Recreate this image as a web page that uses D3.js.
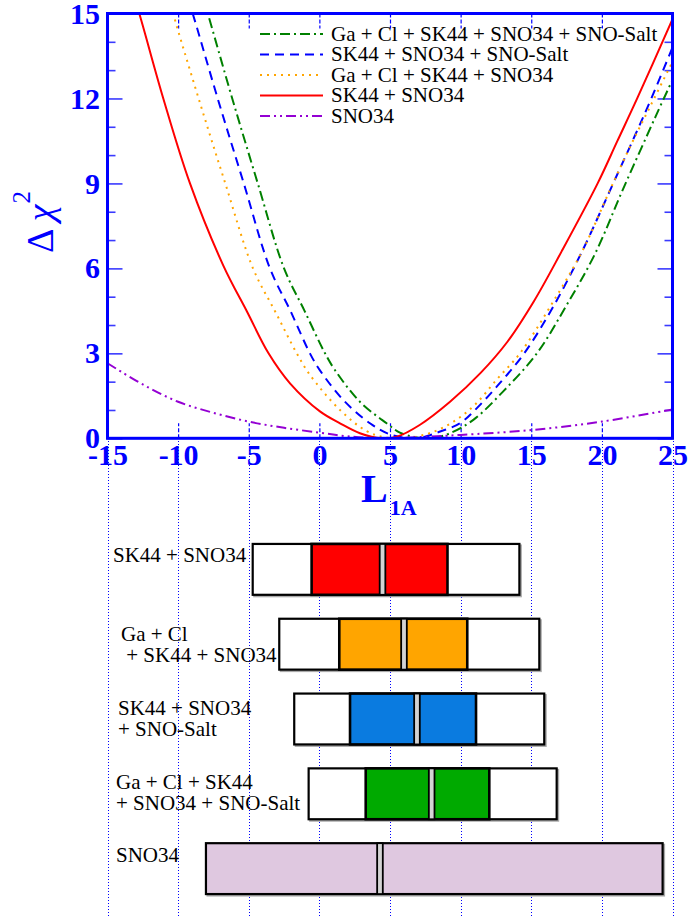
<!DOCTYPE html>
<html>
<head>
<meta charset="utf-8">
<script src="https://cdn.jsdelivr.net/npm/d3@7"></script>
<style>
  body { margin: 0; background: #fff; }
  svg { display: block; font-family: "Liberation Serif", "Times New Roman", serif; }
</style>
</head>
<body>
<div id="chart"></div>
<script>
// x ticks (L_1A) and y ticks (delta chi^2)
var lTicks = [-15, -10, -5, 0, 5, 10, 15, 20, 25];
var chiTicks = [0, 3, 6, 9, 12, 15];
var chiMinor = [1, 2, 4, 5, 7, 8, 10, 11, 13, 14];

var seriesNames = ["Ga + Cl + SK44 + SNO34 + SNO-Salt", "SK44 + SNO34 + SNO-Salt",
  "Ga + Cl + SK44 + SNO34", "SK44 + SNO34", "SNO34"];

// [L_1A, delta chi^2]
var curveGaClSalt = [[-8.2,15.5],[-7.9,15],[-6.17,12],[-4.36,9],[-2.5,6],[-1.05,4.5],[0.4,3.0],[1.1,2.41],
  [2.87,1.29],[4.76,0.53],[5.7,0.2],[6.8,0.04],[7.95,0],[9.25,0.18],[10.9,0.65],[13.0,1.65],[15.4,3.0],[17.5,4.7],
  [19.5,6.5],[21.5,8.8],[23.8,11.36],[25,12.66]];
var curveSalt = [[-9.3,15.5],[-8.97,15],[-7.2,12],[-5.35,9],[-3.5,6],[-2.05,4.5],[-0.67,3.0],[0.04,2.4],[1.7,1.35],
  [3.58,0.53],[5.0,0.14],[6.9,0],[8.5,0.23],[9.95,0.53],[10.9,0.94],[12.6,1.85],[14.5,3.0],[16.5,4.6],
  [18.6,6.6],[20.8,9],[22.35,10.7],[23.5,12],[25,13.8]];
var curveGaCl = [[-10.6,15.5],[-10.35,15],[-8.55,12],[-6.66,9],[-4.7,6],[-3.1,4.45],[-1.6,3.0],[-0.67,2.24],
  [1.46,1.0],[3.35,0.25],[4.5,0.05],[6.0,0],[7.8,0.18],[9.5,0.59],[11.0,1.18],[12.6,2.1],[14.2,3.0],
  [16.4,4.7],[18.6,6.6],[20.6,8.8],[22.0,10.3],[23.5,11.8],[25,13.3]];
var curveSK = [[-13.2,15.7],[-12.75,15],[-11.05,12],[-9.16,9],[-6.8,6.1],[-5.1,4.45],[-3.6,3.0],
  [-2.08,1.94],[0.04,0.95],[1.46,0.53],[2.87,0.18],[4.4,0],[5.5,0.06],[7.1,0.47],[9.25,1.29],[11.4,2.3],
  [13.3,3.4],[15.2,4.85],[17.15,6.6],[19.7,9],[21.1,10.5],[22.5,12],[25,14.8]];
var curveSNO = [[-15,2.65],[-12.5,1.9],[-10,1.29],[-7.5,0.9],[-5,0.59],[-2.5,0.37],[0,0.2],[2,0.07],[4.3,0],
  [7,0.04],[10,0.12],[15,0.29],[20,0.59],[25,1.02]];

var curveColors = ["#008000", "#0000ff", "#ffa500", "#ff0000", "#9400d3"];
var curveDashes = ["10,4,2,4", "9,6", "2,5", null, "10,4,2,4,2,4"];

// lower panel: allowed ranges of L_1A
var bandLabels = [["SK44 + SNO34"], ["Ga + Cl", " + SK44 + SNO34"], ["SK44 + SNO34", "+ SNO-Salt"],
  ["Ga + Cl + SK44", "+ SNO34 + SNO-Salt"], ["SNO34"]];
var bandOuter = [[-4.72, 14.16], [-2.84, 15.57], [-1.78, 15.92], [-0.76, 16.8], [-8.03, 24.3]];
var bandInner = [[-0.55, 9.07], [1.41, 10.47], [2.17, 11.09], [3.28, 12.03], null];
var bandBest = [4.47, 5.99, 6.91, 7.95, 4.29];
var bandColors = ["#ff0000", "#ffa500", "#0a7be0", "#00aa00", "#dfc8e0"];

var W = 689, H = 918;
var pLeft = 107.5, pRight = 672.5, pTop = 13.5, pBottom = 438.3;

var svg = d3.select("#chart").append("svg")
    .attr("width", W)
    .attr("height", H);

var x = d3.scaleLinear().domain([-15, 25]).range([pLeft, pRight]);
var y = d3.scaleLinear().domain([0, 15]).range([pBottom, pTop]);

// dotted guide lines down through the lower panel
svg.append("g").selectAll("line")
    .data(lTicks)
    .enter().append("line")
    .attr("x1", function(d) { return Math.round(x(d)) + 0.5; })
    .attr("x2", function(d) { return Math.round(x(d)) + 0.5; })
    .attr("y1", 441)
    .attr("y2", H)
    .attr("stroke", "#0000ff")
    .attr("stroke-width", 1)
    .attr("shape-rendering", "crispEdges")
    .attr("stroke-dasharray", "1,2");

svg.append("clipPath").attr("id", "plot-clip")
    .append("rect")
    .attr("x", pLeft).attr("y", pTop)
    .attr("width", pRight - pLeft).attr("height", pBottom - pTop);

// axes
var blue = "#0000ff";

var xb = svg.append("g")
    .attr("transform", "translate(0," + pBottom + ")")
    .call(d3.axisBottom(x).tickValues(lTicks).tickSizeInner(-15).tickSizeOuter(0).tickPadding(5.4)
        .tickFormat(function(d) { return String(d); }));
var xt = svg.append("g")
    .attr("transform", "translate(0," + pTop + ")")
    .call(d3.axisTop(x).tickValues(lTicks).tickSizeInner(-15).tickSizeOuter(0).tickFormat(""));
[xb, xt].forEach(function(a) {
    a.select(".domain").remove();
    a.selectAll(".tick line").attr("stroke", blue).attr("stroke-width", 1.2).attr("stroke-dasharray", "4,2");
});

var yl = svg.append("g")
    .attr("transform", "translate(" + pLeft + ",0)")
    .call(d3.axisLeft(y).tickValues(chiTicks).tickSizeInner(-15).tickSizeOuter(0).tickPadding(7.5));
var ylm = svg.append("g")
    .attr("transform", "translate(" + pLeft + ",0)")
    .call(d3.axisLeft(y).tickValues(chiMinor).tickSizeInner(-8).tickSizeOuter(0).tickFormat(""));
var yr = svg.append("g")
    .attr("transform", "translate(" + pRight + ",0)")
    .call(d3.axisRight(y).tickValues(chiTicks).tickSizeInner(-15).tickSizeOuter(0).tickFormat(""));
var yrm = svg.append("g")
    .attr("transform", "translate(" + pRight + ",0)")
    .call(d3.axisRight(y).tickValues(chiMinor).tickSizeInner(-8).tickSizeOuter(0).tickFormat(""));
[yl, ylm, yr, yrm].forEach(function(a) {
    a.select(".domain").remove();
    a.selectAll(".tick line").attr("stroke", "#3a3aff").attr("stroke-width", 1.6);
});

[xb, yl].forEach(function(a) {
    a.selectAll(".tick text")
        .attr("fill", blue)
        .style("font-size", "30px")
        .style("font-weight", "bold")
        .style("font-family", "'Liberation Serif', 'Times New Roman', serif");
});

// curves
var line = d3.line()
    .x(function(d) { return x(d[0]); })
    .y(function(d) { return y(d[1]); })
    .curve(d3.curveCatmullRom.alpha(0.5));

var allCurves = [curveGaClSalt, curveSalt, curveGaCl, curveSK, curveSNO];

svg.append("g").attr("clip-path", "url(#plot-clip)")
    .selectAll("path")
    .data(allCurves)
    .enter().append("path")
    .attr("d", line)
    .attr("fill", "none")
    .attr("stroke", function(d, i) { return curveColors[i]; })
    .attr("stroke-width", 2)
    .attr("stroke-dasharray", function(d, i) { return curveDashes[i]; });

// frame
svg.append("rect")
    .attr("x", pLeft).attr("y", pTop)
    .attr("width", pRight - pLeft).attr("height", pBottom - pTop)
    .attr("fill", "none")
    .attr("stroke", blue)
    .attr("stroke-width", 3);

// legend
var legendY = d3.scaleLinear().domain([0, 4]).range([34, 116]);
var leg = svg.append("g").selectAll("g")
    .data(seriesNames)
    .enter().append("g")
    .attr("transform", function(d, i) { return "translate(0," + legendY(i) + ")"; });
leg.append("line")
    .attr("x1", 260).attr("x2", 323)
    .attr("stroke", function(d, i) { return curveColors[i]; })
    .attr("stroke-width", 2)
    .attr("stroke-dasharray", function(d, i) { return curveDashes[i]; });
leg.append("text")
    .attr("x", 331)
    .attr("y", 6.5)
    .style("font-size", "21px")
    .attr("fill", "#000")
    .text(function(d) { return d; });

// axis titles
var ytitle = svg.append("text")
    .attr("transform", "translate(53,222) rotate(-90)")
    .attr("text-anchor", "middle")
    .attr("fill", blue)
    .style("font-size", "38px");
ytitle.append("tspan").text("\u0394 ");
ytitle.append("tspan").style("font-style", "italic").text("\u03c7");
ytitle.append("tspan").attr("dy", -23).attr("dx", 1).style("font-size", "25px").text("2");

var xtitle = svg.append("text")
    .attr("x", 361)
    .attr("y", 501.5)
    .attr("fill", blue)
    .style("font-weight", "bold")
    .style("font-size", "40px");
xtitle.append("tspan").text("L");
xtitle.append("tspan").attr("dy", 13.5).attr("dx", 2).style("font-size", "22px").text("1A");

// lower panel bands
var band = d3.scaleBand()
    .domain(d3.range(bandLabels.length))
    .range([520, 918])
    .padding(0.32);

var rows = svg.append("g").selectAll("g")
    .data(bandLabels)
    .enter().append("g")
    .attr("transform", function(d, i) { return "translate(0," + band(i) + ")"; });

var bh = band.bandwidth();

// outer range (shadow then box)
rows.append("rect")
    .attr("x", function(d, i) { return x(bandOuter[i][0]) + 1.5; })
    .attr("y", 1.5)
    .attr("width", function(d, i) { return x(bandOuter[i][1]) - x(bandOuter[i][0]); })
    .attr("height", bh)
    .attr("fill", "none")
    .attr("stroke", "#aaa")
    .attr("stroke-width", 2);
rows.append("rect")
    .attr("x", function(d, i) { return x(bandOuter[i][0]); })
    .attr("width", function(d, i) { return x(bandOuter[i][1]) - x(bandOuter[i][0]); })
    .attr("height", bh)
    .attr("fill", function(d, i) { return bandInner[i] ? "#fff" : bandColors[i]; })
    .attr("stroke", "#000")
    .attr("stroke-width", 2.2);

// inner range
rows.filter(function(d, i) { return bandInner[i]; })
    .append("rect")
    .attr("x", function(d) { var i = bandLabels.indexOf(d); return x(bandInner[i][0]); })
    .attr("width", function(d) { var i = bandLabels.indexOf(d); return x(bandInner[i][1]) - x(bandInner[i][0]); })
    .attr("height", bh)
    .attr("fill", function(d) { return bandColors[bandLabels.indexOf(d)]; })
    .attr("stroke", "#000")
    .attr("stroke-width", 2.6);

// best fit
rows.append("rect")
    .attr("x", function(d, i) { return x(bandBest[i] - 0.2); })
    .attr("width", function(d, i) { return x(bandBest[i] + 0.2) - x(bandBest[i] - 0.2); })
    .attr("height", bh)
    .attr("fill", "#d3d3d3")
    .attr("stroke", "#000")
    .attr("stroke-width", 1.8);

// labels
var labelX = [113, 121, 118, 116, 116];
var labelFirst = [18, 22, 21, 21, 19];
rows.append("text")
    .attr("fill", "#000")
    .style("font-size", "21px")
    .each(function(d, i) {
        var t = d3.select(this);
        d.forEach(function(s, k) {
            t.append("tspan")
                .attr("x", labelX[i])
                .attr("y", labelFirst[i] + k * 21)
                .style("white-space", "pre")
                .text(s);
        });
    });
</script>
</body>
</html>
